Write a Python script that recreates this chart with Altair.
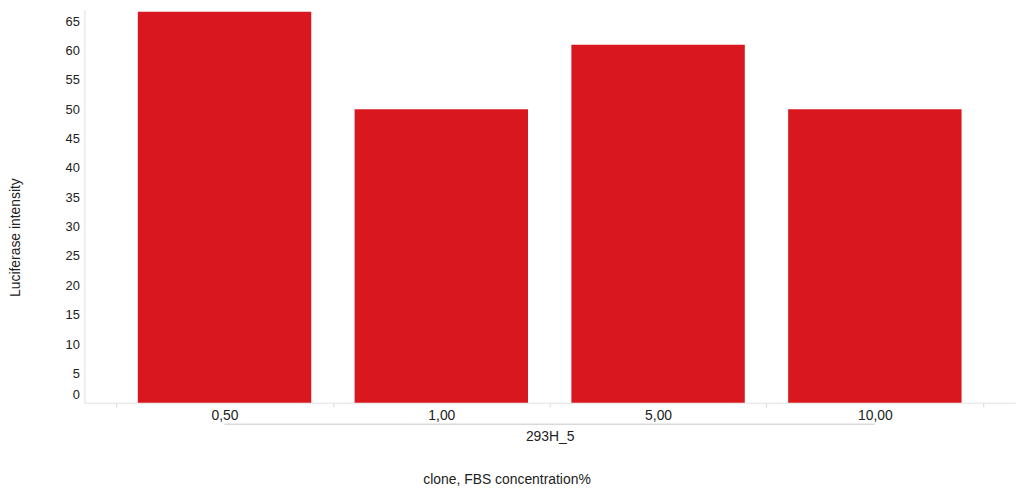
import altair as alt
import pandas as pd

# ---- data ----
categories = ["0,50", "1,00", "5,00", "10,00"]
values = [66.6, 50.0, 61.0, 50.0]
group_label = "293H_5"
x_title = "clone, FBS concentration%"
y_title = "Luciferase intensity"
y_ticks = [0, 5, 10, 15, 20, 25, 30, 35, 40, 45, 50, 55, 60, 65]

bars_df = pd.DataFrame({"conc": categories, "value": values})
title_df = pd.DataFrame({"t": [x_title]})

W, H = 938, 396
FONT = "Arial, Liberation Sans, sans-serif"
TEXT = "#222222"
LINE = "#e2e2e2"
PAD_OUTER = 0.1465

x_scale = alt.Scale(domain=categories, paddingInner=0, paddingOuter=PAD_OUTER)
y_scale = alt.Scale(domain=[0, 66.93], nice=False, zero=True)

# group bracket spans from the centre of the first band to the centre of the last
step = W / (len(categories) + 2 * PAD_OUTER)
br_x0 = PAD_OUTER * step + step / 2
br_x1 = W - PAD_OUTER * step - step / 2

x_axis = alt.Axis(
    title=group_label,
    labelAngle=0,
    labelFontSize=14,
    labelColor=TEXT,
    labelFont=FONT,
    labelPadding=2,
    labelBaseline="top",
    domainColor=LINE,
    tickColor="#d4d4d4",
    tickSize=4,
    tickBand="extent",
    grid=False,
    titleFont=FONT,
    titleFontSize=14,
    titleFontWeight="normal",
    titleColor=TEXT,
    titleY=27,
    titleBaseline="top",
)

y_axis = alt.Axis(
    title=y_title,
    values=y_ticks,
    grid=False,
    ticks=False,
    tickSize=0,
    labelFontSize=13,
    labelColor=TEXT,
    labelFont=FONT,
    labelPadding=5,
    labelOffset={"condition": {"test": "datum.value === 0", "value": -8}, "value": 0},
    domainColor=LINE,
    titleFont=FONT,
    titleFontSize=14,
    titleFontWeight="normal",
    titleColor=TEXT,
    titleX=-69,
    titleY=229,
    titleAngle=270,
    titleAlign="center",
    titleBaseline="middle",
)

bars = alt.Chart(bars_df).mark_bar(color="#d8181e", width={"band": 0.8}).encode(
    x=alt.X("conc:N", scale=x_scale, axis=x_axis, title=group_label),
    y=alt.Y("value:Q", scale=y_scale, axis=y_axis),
)

bracket = alt.Chart(title_df).mark_rect(color="#dadada").encode(
    x=alt.value(br_x0),
    x2=alt.value(br_x1),
    y=alt.value(417),
    y2=alt.value(418.3),
)

xtitle = alt.Chart(title_df).mark_text(
    font=FONT, fontSize=14, color=TEXT, align="center", baseline="middle"
).encode(
    text="t:N",
    x=alt.value(426),
    y=alt.value(474),
)

chart = (
    alt.layer(bars, bracket, xtitle)
    .properties(
        width=W,
        height=H,
        autosize=alt.AutoSizeParams(type="none"),
        padding={"left": 77, "top": 0, "right": 1, "bottom": 83},
        background="white",
    )
    .configure_view(stroke=None)
)

chart.save("out.html", embed_options={"renderer": "svg", "actions": False})
